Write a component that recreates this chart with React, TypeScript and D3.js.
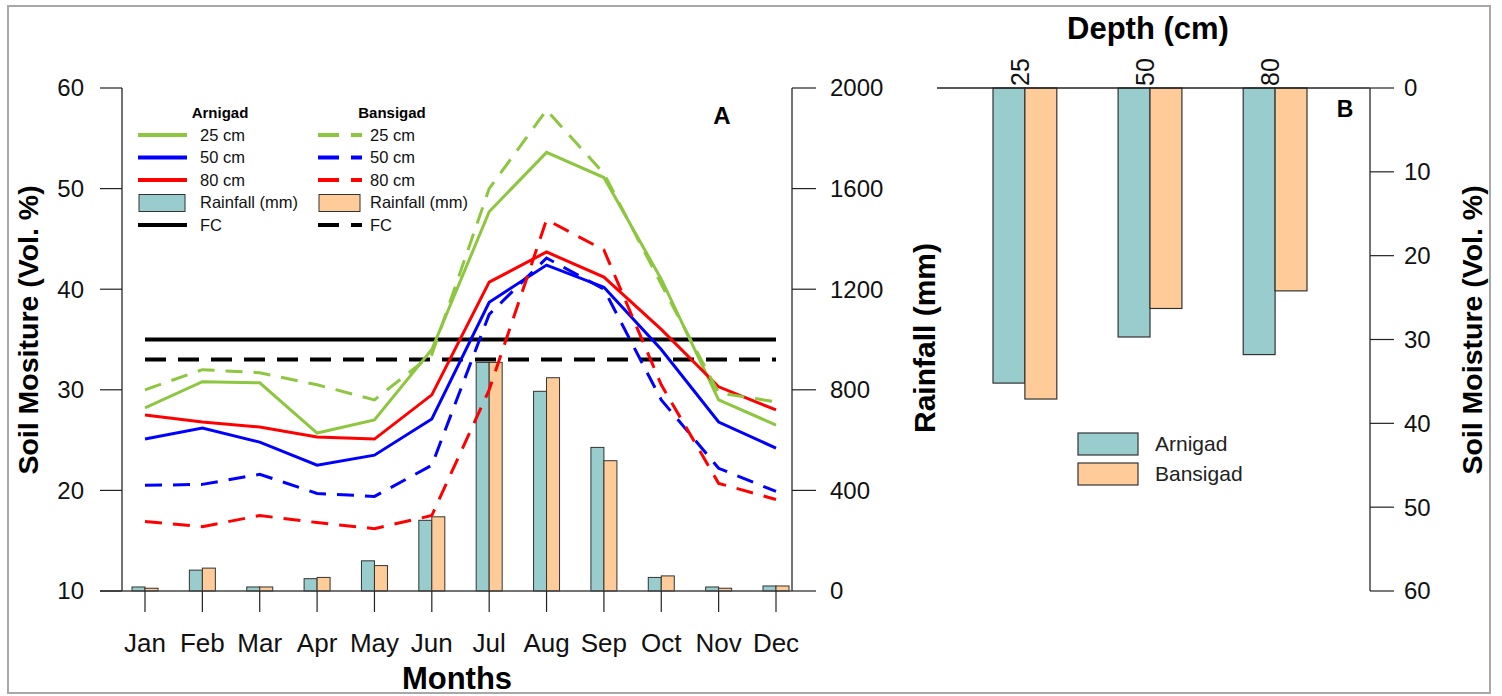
import React, { useEffect, useRef } from 'react';
import * as d3 from 'd3';

const months = ['Jan', 'Feb', 'Mar', 'Apr', 'May', 'Jun', 'Jul', 'Aug', 'Sep', 'Oct', 'Nov', 'Dec'];

// soil moisture (Vol. %) by month
const arnigad25 = [28.2, 30.8, 30.7, 25.7, 27.0, 34.0, 47.7, 53.6, 51.1, 41.0, 29.0, 26.5];
const arnigad50 = [25.1, 26.2, 24.8, 22.5, 23.5, 27.1, 38.7, 42.4, 40.2, 34.0, 26.8, 24.2];
const arnigad80 = [27.5, 26.8, 26.3, 25.3, 25.1, 29.5, 40.7, 43.7, 41.2, 36.0, 30.3, 28.0];
const bansigad25 = [30.0, 32.0, 31.7, 30.5, 29.0, 33.5, 50.0, 57.8, 51.5, 40.5, 29.7, 28.8];
const bansigad50 = [20.5, 20.6, 21.6, 19.7, 19.4, 22.5, 37.5, 43.1, 40.0, 29.0, 22.2, 19.9];
const bansigad80 = [16.9, 16.4, 17.5, 16.8, 16.2, 17.5, 30.0, 46.9, 43.9, 30.5, 20.7, 19.1];

// field capacity
const fcArnigad = 35;
const fcBansigad = 33;

// monthly rainfall (mm)
const rainArnigad = [16, 83, 16, 49, 120, 281, 909, 794, 571, 54, 16, 20];
const rainBansigad = [11, 91, 16, 54, 101, 295, 909, 848, 518, 60, 11, 20];

const moistureTicks = [10, 20, 30, 40, 50, 60];
const rainTicks = [0, 400, 800, 1200, 1600, 2000];

// panel B: mean soil moisture by depth
const depths = ['25', '50', '80'];
const depthArnigad = [35.2, 29.7, 31.8];
const depthBansigad = [37.1, 26.3, 24.2];
const depthTicks = [0, 10, 20, 30, 40, 50, 60];

const GREEN = '#8dc63f';
const BLUE = '#0000ff';
const RED = '#ff0000';
const TEAL = '#99cccc';
const PEACH = '#ffcc99';
const FONT = '"Liberation Sans", Arial, sans-serif';

const App = () => {
    const ref = useRef<SVGSVGElement>(null);

    useEffect(() => {
        const svg = d3.select(ref.current);
        svg.selectAll('*').remove();
        svg.style('font-family', FONT);

        // outer frame
        svg.append('rect')
            .attr('x', 8).attr('y', 6).attr('width', 1482).attr('height', 687)
            .attr('fill', 'white').attr('stroke', '#a8a8a8').attr('stroke-width', 2);

        // ---------- Panel A ----------
        const x = d3.scalePoint<string>().domain(months).range([145, 776]);
        const y = d3.scaleLinear().domain([10, 60]).range([591, 88]);
        const yR = d3.scaleLinear().domain([0, 2000]).range([591, 88]);
        const left = 122, right = 792;
        const g = svg.append('g');

        // rainfall bars
        const bw = 13;
        const rain = months.map((m, i) => ({ m, a: rainArnigad[i], b: rainBansigad[i] }));
        g.selectAll('.ra').data(rain).enter().append('rect')
            .attr('x', d => x(d.m)! - bw).attr('y', d => yR(d.a))
            .attr('width', bw).attr('height', d => yR(0) - yR(d.a))
            .attr('fill', TEAL).attr('stroke', '#333').attr('stroke-width', 1);
        g.selectAll('.rb').data(rain).enter().append('rect')
            .attr('x', d => x(d.m)!).attr('y', d => yR(d.b))
            .attr('width', bw).attr('height', d => yR(0) - yR(d.b))
            .attr('fill', PEACH).attr('stroke', '#333').attr('stroke-width', 1);

        // baseline
        g.append('line').attr('x1', 100).attr('x2', right).attr('y1', y(10)).attr('y2', y(10))
            .attr('stroke', '#444').attr('stroke-width', 1.5);

        // FC lines
        g.append('line').attr('x1', x('Jan')!).attr('x2', x('Dec')!)
            .attr('y1', y(fcArnigad)).attr('y2', y(fcArnigad))
            .attr('stroke', '#000').attr('stroke-width', 4);
        g.append('line').attr('x1', x('Jan')!).attr('x2', x('Dec')!)
            .attr('y1', y(fcBansigad)).attr('y2', y(fcBansigad))
            .attr('stroke', '#000').attr('stroke-width', 4).attr('stroke-dasharray', '21,12');

        const line = d3.line<number>().x((d, i) => x(months[i])!).y(d => y(d));
        const series = [
            { v: arnigad25, c: GREEN, dash: null },
            { v: arnigad50, c: BLUE, dash: null },
            { v: arnigad80, c: RED, dash: null },
            { v: bansigad25, c: GREEN, dash: '17,11' },
            { v: bansigad50, c: BLUE, dash: '17,11' },
            { v: bansigad80, c: RED, dash: '17,11' },
        ];
        series.forEach(s => {
            g.append('path').attr('d', line(s.v)!)
                .attr('fill', 'none').attr('stroke', s.c).attr('stroke-width', 3)
                .attr('stroke-dasharray', s.dash);
        });

        // left axis
        g.append('line').attr('x1', left).attr('x2', left).attr('y1', y(10)).attr('y2', y(60))
            .attr('stroke', '#444').attr('stroke-width', 1.5);
        moistureTicks.forEach(t => {
            g.append('line').attr('x1', 100).attr('x2', left).attr('y1', y(t)).attr('y2', y(t))
                .attr('stroke', '#222').attr('stroke-width', 1.2);
            g.append('text').attr('x', 84).attr('y', y(t)).attr('dy', '0.35em')
                .attr('text-anchor', 'end').attr('font-size', 24).attr('fill', '#111').text(t);
        });

        // right axis
        g.append('line').attr('x1', right).attr('x2', right).attr('y1', yR(0)).attr('y2', yR(2000))
            .attr('stroke', '#444').attr('stroke-width', 1.5);
        rainTicks.forEach(t => {
            g.append('line').attr('x1', right).attr('x2', right + 24).attr('y1', yR(t)).attr('y2', yR(t))
                .attr('stroke', '#222').attr('stroke-width', 1.2);
            g.append('text').attr('x', 830).attr('y', yR(t)).attr('dy', '0.35em')
                .attr('font-size', 24).attr('fill', '#111').text(t);
        });

        // month ticks and labels
        months.forEach(m => {
            g.append('line').attr('x1', x(m)!).attr('x2', x(m)!).attr('y1', 591).attr('y2', 612)
                .attr('stroke', '#222').attr('stroke-width', 1.2);
            g.append('text').attr('x', x(m)!).attr('y', 652).attr('text-anchor', 'middle')
                .attr('font-size', 26).attr('fill', '#111').text(m);
        });

        // axis titles
        g.append('text').attr('transform', 'translate(38,330) rotate(-90)')
            .attr('text-anchor', 'middle').attr('font-size', 28.5).attr('font-weight', 'bold')
            .text('Soil Mositure (Vol. %)');
        g.append('text').attr('transform', 'translate(935,338) rotate(-90)')
            .attr('text-anchor', 'middle').attr('font-size', 30).attr('font-weight', 'bold')
            .text('Rainfall (mm)');
        g.append('text').attr('x', 457).attr('y', 689).attr('text-anchor', 'middle')
            .attr('font-size', 31).attr('font-weight', 'bold').text('Months');
        g.append('text').attr('x', 722).attr('y', 124).attr('text-anchor', 'middle')
            .attr('font-size', 24).attr('font-weight', 'bold').text('A');

        // legend A
        const legendRows = ['25 cm', '50 cm', '80 cm', 'Rainfall (mm)', 'FC'];
        const legendCols = [
            { title: 'Arnigad', tx: 220, x0: 138, x1: 187, lx: 200, dash: null, fill: TEAL },
            { title: 'Bansigad', tx: 392, x0: 318, x1: 362, lx: 370, dash: '21,12', fill: PEACH },
        ];
        const rowColors = [GREEN, BLUE, RED, null, '#000'];
        legendCols.forEach(col => {
            g.append('text').attr('x', col.tx).attr('y', 118).attr('text-anchor', 'middle')
                .attr('font-size', 15).attr('font-weight', 'bold').text(col.title);
            legendRows.forEach((r, i) => {
                const ry = 135 + i * 22.5;
                if (rowColors[i]) {
                    g.append('line').attr('x1', col.x0).attr('x2', col.x1).attr('y1', ry).attr('y2', ry)
                        .attr('stroke', rowColors[i]!).attr('stroke-width', 4)
                        .attr('stroke-dasharray', col.dash);
                } else {
                    g.append('rect').attr('x', col.x0 + 1).attr('y', ry - 8).attr('width', col.x1 - col.x0 - 3)
                        .attr('height', 17).attr('fill', col.fill).attr('stroke', '#333').attr('stroke-width', 1);
                }
                g.append('text').attr('x', col.lx).attr('y', ry).attr('dy', '0.35em')
                    .attr('font-size', 16.5).attr('fill', '#111').text(r);
            });
        });

        // ---------- Panel B ----------
        const bLeft = 937, bRight = 1370;
        const xb = d3.scaleBand().domain(depths).range([993, 1307]).paddingInner(0.49);
        const yb = d3.scaleLinear().domain([0, 60]).range([88, 591]);
        const gb = svg.append('g');
        const half = xb.bandwidth() / 2;
        const depthData = depths.map((d, i) => ({ d, a: depthArnigad[i], b: depthBansigad[i] }));

        gb.selectAll('.da').data(depthData).enter().append('rect')
            .attr('x', d => xb(d.d)!).attr('y', yb(0)).attr('width', half)
            .attr('height', d => yb(d.a) - yb(0))
            .attr('fill', TEAL).attr('stroke', '#333').attr('stroke-width', 1.2);
        gb.selectAll('.db').data(depthData).enter().append('rect')
            .attr('x', d => xb(d.d)! + half).attr('y', yb(0)).attr('width', half)
            .attr('height', d => yb(d.b) - yb(0))
            .attr('fill', PEACH).attr('stroke', '#333').attr('stroke-width', 1.2);

        gb.append('line').attr('x1', bLeft).attr('x2', bRight).attr('y1', yb(0)).attr('y2', yb(0))
            .attr('stroke', '#222').attr('stroke-width', 1.5);
        gb.append('line').attr('x1', bRight).attr('x2', bRight).attr('y1', yb(0)).attr('y2', yb(60))
            .attr('stroke', '#444').attr('stroke-width', 1.5);
        depthTicks.forEach(t => {
            gb.append('line').attr('x1', bRight).attr('x2', bRight + 24).attr('y1', yb(t)).attr('y2', yb(t))
                .attr('stroke', '#222').attr('stroke-width', 1.2);
            gb.append('text').attr('x', 1404).attr('y', yb(t)).attr('dy', '0.35em')
                .attr('font-size', 24).attr('fill', '#111').text(t);
        });

        depths.forEach(d => {
            const cx = xb(d)! + half - 5;
            gb.append('text').attr('transform', `translate(${cx},86) rotate(-90)`)
                .attr('dy', '0.35em').attr('font-size', 25).attr('fill', '#111').text(d);
        });

        gb.append('text').attr('x', 1148).attr('y', 39).attr('text-anchor', 'middle')
            .attr('font-size', 31).attr('font-weight', 'bold').text('Depth (cm)');
        gb.append('text').attr('x', 1345).attr('y', 117).attr('text-anchor', 'middle')
            .attr('font-size', 23).attr('font-weight', 'bold').text('B');
        gb.append('text').attr('transform', 'translate(1482,330) rotate(-90)')
            .attr('text-anchor', 'middle').attr('font-size', 28.5).attr('font-weight', 'bold')
            .text('Soil Moisture (Vol. %)');

        // legend B
        [{ label: 'Arnigad', fill: TEAL }, { label: 'Bansigad', fill: PEACH }].forEach((l, i) => {
            const ly = 433 + i * 30;
            gb.append('rect').attr('x', 1078).attr('y', ly).attr('width', 60).attr('height', 22)
                .attr('fill', l.fill).attr('stroke', '#333').attr('stroke-width', 1.2);
            gb.append('text').attr('x', 1155).attr('y', ly + 11).attr('dy', '0.35em')
                .attr('font-size', 21).attr('fill', '#222').text(l.label);
        });
    }, []);

    return (
        <div style={{ position: 'absolute', left: 0, top: 0 }}>
            <svg ref={ref} width={1502} height={696} />
        </div>
    );
};

export default App;
